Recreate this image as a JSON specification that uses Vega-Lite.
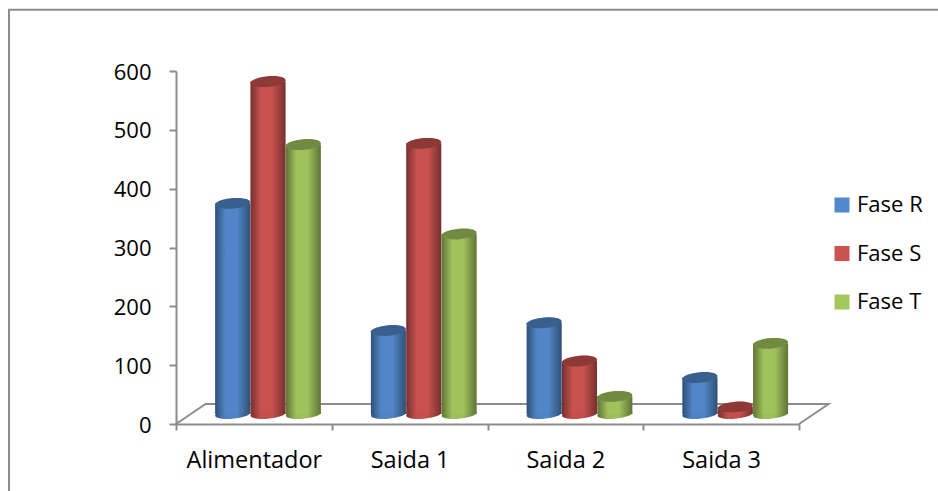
{
  "$schema": "https://vega.github.io/schema/vega-lite/v6.json",
  "width": 623,
  "height": 353,
  "autosize": "none",
  "padding": {"left": 176, "top": 71, "right": 139, "bottom": 67},
  "background": "white",
  "config": {
    "view": {"stroke": null},
    "font": "Open Sans"
  },
  "datasets": {
    "leituras": [
      {"saida": "Alimentador", "fase": "Fase R", "corrente": 358},
      {"saida": "Alimentador", "fase": "Fase S", "corrente": 565},
      {"saida": "Alimentador", "fase": "Fase T", "corrente": 458},
      {"saida": "Saida 1", "fase": "Fase R", "corrente": 142},
      {"saida": "Saida 1", "fase": "Fase S", "corrente": 460},
      {"saida": "Saida 1", "fase": "Fase T", "corrente": 306},
      {"saida": "Saida 2", "fase": "Fase R", "corrente": 155},
      {"saida": "Saida 2", "fase": "Fase S", "corrente": 90},
      {"saida": "Saida 2", "fase": "Fase T", "corrente": 30},
      {"saida": "Saida 3", "fase": "Fase R", "corrente": 62},
      {"saida": "Saida 3", "fase": "Fase S", "corrente": 12},
      {"saida": "Saida 3", "fase": "Fase T", "corrente": 120}
    ],
    "piso": [
      {"u": 0, "v": 0, "ordem": 1},
      {"u": 0.19, "v": 34, "ordem": 2},
      {"u": 4.19, "v": 34, "ordem": 3},
      {"u": 4, "v": 0, "ordem": 4}
    ],
    "moldura": [
      {"u0": -1.072, "u1": 5.2, "v0": -200, "v1": 704}
    ]
  },
  "resolve": {"scale": {"x": "independent"}, "axis": {"x": "independent"}},
  "layer": [
    {
      "data": {"name": "moldura"},
      "mark": {"type": "rect", "fill": null, "stroke": "#8c8c8c", "strokeWidth": 2, "clip": false},
      "encoding": {
        "x": {"field": "u0", "type": "quantitative", "scale": {"domain": [0, 4], "nice": false, "zero": false}, "axis": null},
        "x2": {"field": "u1"},
        "y": {"field": "v0", "type": "quantitative", "scale": {"domain": [0, 600], "nice": false}},
        "y2": {"field": "v1"}
      }
    },
    {
      "data": {"name": "piso"},
      "mark": {"type": "line", "stroke": "#8c8c8c", "strokeWidth": 2, "clip": false},
      "encoding": {
        "x": {"field": "u", "type": "quantitative", "scale": {"domain": [0, 4], "nice": false, "zero": false}, "axis": null},
        "y": {"field": "v", "type": "quantitative"},
        "order": {"field": "ordem"}
      }
    },
    {
      "data": {"name": "leituras"},
      "encoding": {
        "x": {
          "field": "saida",
          "type": "nominal",
          "sort": null,
          "title": null,
          "scale": {"paddingInner": 0, "paddingOuter": 0},
          "axis": {
            "labelAngle": 0,
            "labelFont": "Open Sans",
            "labelFontSize": 23.5,
            "labelColor": "#000000",
            "labelPadding": 18,
            "tickBand": "extent",
            "tickColor": "#8c8c8c",
            "tickWidth": 2,
            "tickSize": 6,
            "domainColor": "#8c8c8c",
            "domainWidth": 2,
            "grid": false
          }
        },
        "xOffset": {
          "field": "fase",
          "type": "nominal",
          "sort": null,
          "scale": {"range": [39, 145], "paddingInner": 0, "paddingOuter": 0}
        }
      },
      "layer": [
        {
          "mark": {"type": "point", "filled": true, "opacity": 1, "yOffset": -10, "shape": "M-1,0.08A1,0.27,-5,1,1,1,-0.08A1,0.27,-5,1,1,-1,0.08Z"},
          "encoding": {
            "y": {"datum": 0, "type": "quantitative"},
            "size": {"value": 1225},
            "color": {"field": "fase", "type": "nominal", "sort": null}
          }
        },
        {
          "mark": {
            "type": "point",
            "filled": true,
            "opacity": 1,
            "yOffset": -10,
            "shape": "M-1,0.08A1,0.27,-5,1,1,1,-0.08A1,0.27,-5,1,1,-1,0.08Z",
            "color": {
              "gradient": "linear",
              "x1": 0, "y1": 0, "x2": 1, "y2": 0,
              "stops": [
                {"offset": 0, "color": "rgba(0,0,0,0.42)"},
                {"offset": 0.3, "color": "rgba(0,0,0,0.04)"},
                {"offset": 0.62, "color": "rgba(0,0,0,0.04)"},
                {"offset": 1, "color": "rgba(0,0,0,0.42)"}
              ]
            }
          },
          "encoding": {
            "y": {"datum": 0, "type": "quantitative"},
            "size": {"value": 1225}
          }
        },
        {
          "mark": {"type": "bar", "yOffset": -10, "y2Offset": -10, "width": 35},
          "encoding": {
            "y": {
              "field": "corrente",
              "type": "quantitative",
              "title": null,
              "scale": {"domain": [0, 600], "nice": false},
              "axis": {
                "values": [0, 100, 200, 300, 400, 500, 600],
                "labelFont": "Open Sans",
                "labelFontSize": 22,
                "labelColor": "#000000",
                "labelPadding": 18,
                "labelOffset": 1,
                "tickColor": "#8c8c8c",
                "tickWidth": 2,
                "tickSize": 7,
                "domainColor": "#8c8c8c",
                "domainWidth": 2,
                "grid": false
              }
            },
            "color": {
              "field": "fase",
              "type": "nominal",
              "sort": null,
              "scale": {"domain": ["Fase R", "Fase S", "Fase T"], "range": ["#5289cc", "#cb5350", "#a3c65d"]},
              "legend": {
                "title": null,
                "orient": "none",
                "legendX": 655,
                "legendY": 120,
                "symbolType": "square",
                "symbolSize": 225,
                "symbolStrokeWidth": 0,
                "labelFont": "Open Sans",
                "labelFontSize": 22,
                "labelColor": "#000000",
                "labelOffset": 4,
                "rowPadding": 20.5,
                "clipHeight": 28
              }
            }
          }
        },
        {
          "mark": {
            "type": "bar",
            "yOffset": -10,
            "y2Offset": -10,
            "width": 35,
            "color": {
              "gradient": "linear",
              "x1": 0, "y1": 0, "x2": 1, "y2": 0,
              "stops": [
                {"offset": 0, "color": "rgba(0,0,0,0.42)"},
                {"offset": 0.3, "color": "rgba(0,0,0,0.02)"},
                {"offset": 0.62, "color": "rgba(0,0,0,0.02)"},
                {"offset": 1, "color": "rgba(0,0,0,0.42)"}
              ]
            }
          },
          "encoding": {
            "y": {"field": "corrente", "type": "quantitative"}
          }
        },
        {
          "mark": {"type": "point", "filled": true, "opacity": 1, "yOffset": -10, "shape": "M-1,0.08A1,0.3,-5,1,1,1,-0.08A1,0.3,-5,1,1,-1,0.08Z"},
          "encoding": {
            "y": {"field": "corrente", "type": "quantitative"},
            "size": {"value": 1225},
            "color": {"field": "fase", "type": "nominal", "sort": null}
          }
        },
        {
          "mark": {"type": "point", "filled": true, "opacity": 0.3, "color": "#000000", "yOffset": -10, "shape": "M-1,0.08A1,0.3,-5,1,1,1,-0.08A1,0.3,-5,1,1,-1,0.08Z"},
          "encoding": {
            "y": {"field": "corrente", "type": "quantitative"},
            "size": {"value": 1225}
          }
        }
      ]
    }
  ]
}
